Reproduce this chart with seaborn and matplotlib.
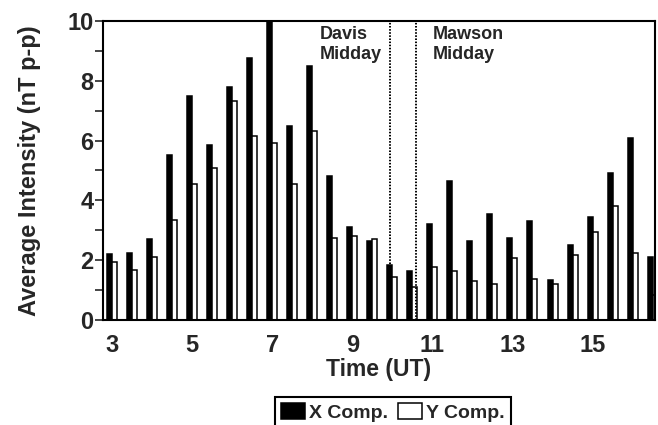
import matplotlib
matplotlib.use("Agg")
import matplotlib.pyplot as plt
from matplotlib.ticker import MultipleLocator
import numpy as np
import pandas as pd
import seaborn as sns

# Half-hourly averaged pulsation intensity, 03:00 to 16:30 UT
times = [3.0, 3.5, 4.0, 4.5, 5.0, 5.5, 6.0, 6.5, 7.0, 7.5,
         8.0, 8.5, 9.0, 9.5, 10.0, 10.5, 11.0, 11.5, 12.0, 12.5,
         13.0, 13.5, 14.0, 14.5, 15.0, 15.5, 16.0, 16.5]
x_comp = [2.2, 2.25, 2.7, 5.5, 7.5, 5.85, 7.8, 8.75, 10.0, 6.5,
          8.5, 4.8, 3.1, 2.65, 1.85, 1.65, 3.2, 4.65, 2.65, 3.55,
          2.75, 3.3, 1.35, 2.5, 3.45, 4.9, 6.1, 2.1]
y_comp = [1.93, 1.67, 2.12, 3.35, 4.56, 5.08, 7.31, 6.16, 5.93, 4.53,
          6.31, 2.73, 2.81, 2.7, 1.45, 1.1, 1.77, 1.65, 1.3, 1.2,
          2.07, 1.37, 1.2, 2.18, 2.93, 3.82, 2.24, 0.84]
components = ["X Comp.", "Y Comp."]
x_ticks = [3, 5, 7, 9, 11, 13, 15]
davis_midday = 9.95
mawson_midday = 10.58

df = pd.DataFrame({
    "time": times * 2,
    "intensity": x_comp + y_comp,
    "component": [components[0]] * len(times) + [components[1]] * len(times),
})

sns.set_style("ticks")
plt.rcParams["font.family"] = ["Liberation Sans", "DejaVu Sans"]
plt.rcParams["font.weight"] = "bold"
plt.rcParams["axes.labelweight"] = "bold"

fig = plt.figure(figsize=(6.58, 4.25), dpi=100)
ax = fig.add_axes([0.1565, 0.247, 0.839, 0.704])

sns.barplot(data=df, x="time", y="intensity", hue="component",
            hue_order=components, native_scale=True, width=0.5,
            palette={"X Comp.": "black", "Y Comp.": "white"},
            edgecolor="black", linewidth=1.1, errorbar=None, ax=ax)

# Local-noon markers for the two stations
for t in (davis_midday, mawson_midday):
    ax.axvline(t, color="black", linestyle=(0, (0.8, 0.8)), linewidth=1.4)

ax.text(8.18, 9.82, "Davis\nMidday", ha="left", va="top",
        fontsize=13, fontweight="bold", linespacing=1.2)
ax.text(11.0, 9.82, "Mawson\nMidday", ha="left", va="top",
        fontsize=13, fontweight="bold", linespacing=1.2)

ax.set_xlim(2.775, 16.56)
ax.set_ylim(0, 10)
ax.set_xticks(x_ticks)
ax.set_xticklabels([str(v) for v in x_ticks])
ax.yaxis.set_major_locator(MultipleLocator(2))
ax.yaxis.set_minor_locator(MultipleLocator(1))
ax.tick_params(axis="x", length=0, pad=10, labelsize=17)
ax.tick_params(axis="y", which="both", direction="out", length=6,
               width=1.2, pad=1, labelsize=17)

for side in ("left", "right", "top", "bottom"):
    ax.spines[side].set_visible(True)
    ax.spines[side].set_linewidth(1.5)
    ax.spines[side].set_color("black")

ax.set_xlabel("Time (UT)", fontsize=16.5, labelpad=1)
ax.set_ylabel("Average Intensity (nT p-p)", fontsize=17)
ax.yaxis.set_label_coords(-0.112, 0.5)

sns.move_legend(ax, "upper center", bbox_to_anchor=(0.597, 0.066),
                bbox_transform=fig.transFigure, ncol=2, title=None,
                frameon=True, fancybox=False, edgecolor="black",
                framealpha=1, prop={"size": 14, "weight": "bold"},
                handlelength=1.25, handleheight=0.9, handletextpad=0.2,
                columnspacing=0.5, borderpad=0.3, borderaxespad=0)
ax.get_legend().get_frame().set_linewidth(1.5)

fig.savefig("out.png", dpi=100)
